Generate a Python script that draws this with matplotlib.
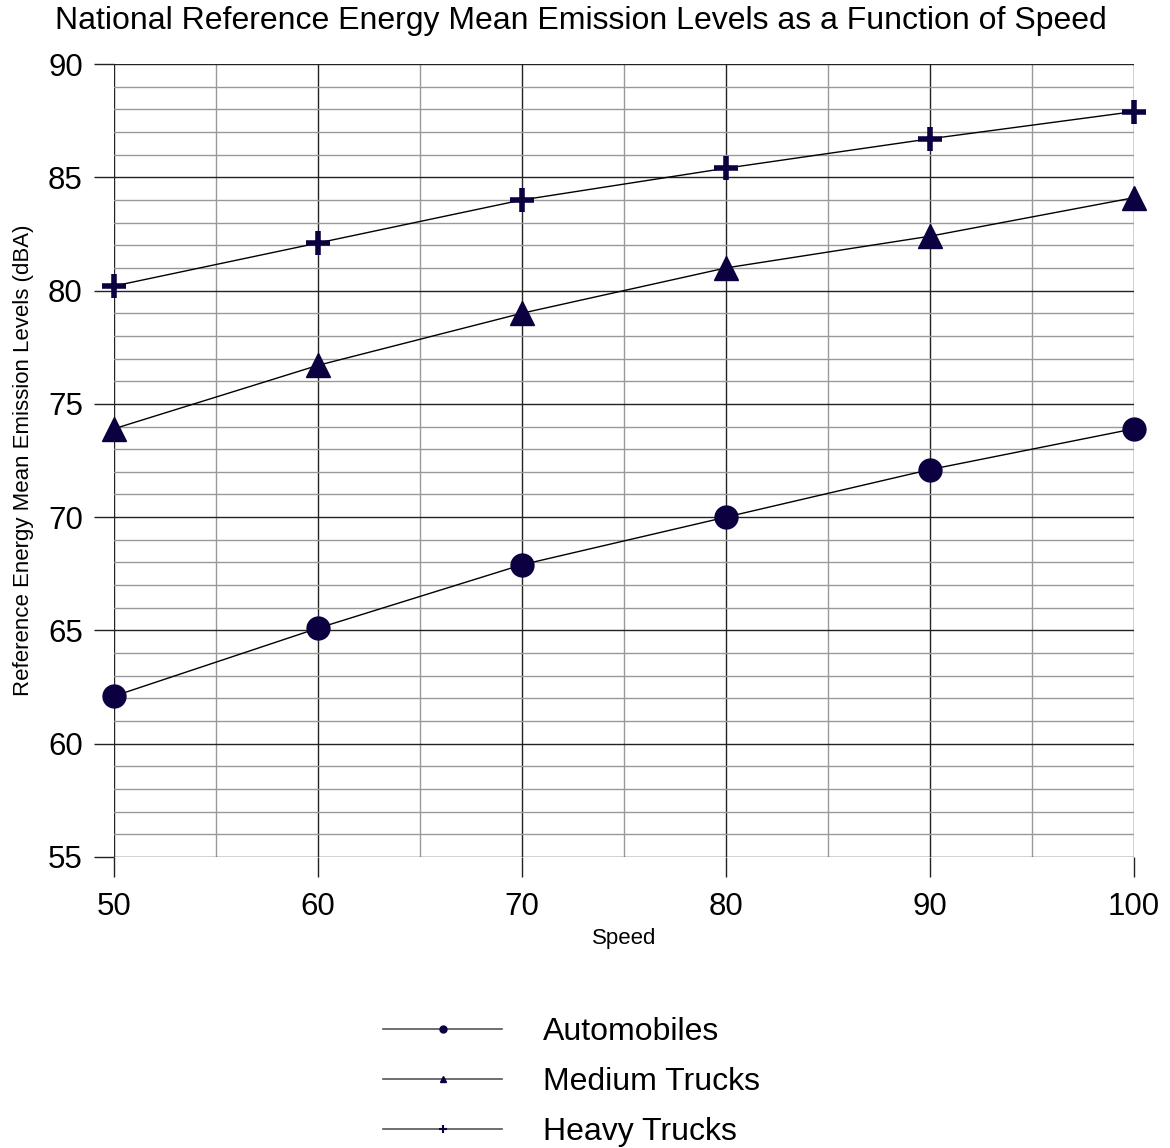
import matplotlib
matplotlib.use("Agg")
import matplotlib.pyplot as plt
from matplotlib.ticker import MultipleLocator

plt.rcParams['font.family'] = ['Liberation Sans', 'DejaVu Sans']

# data
speed = [50, 60, 70, 80, 90, 100]
automobiles = [62.1, 65.1, 67.9, 70.0, 72.1, 73.9]
medium_trucks = [73.9, 76.7, 79.0, 81.0, 82.4, 84.1]
heavy_trucks = [80.2, 82.1, 84.0, 85.4, 86.7, 87.9]
series_names = ['Automobiles', 'Medium Trucks', 'Heavy Trucks']

MARK = '#0d0040'    # dark navy for the markers

fig = plt.figure(figsize=(11.7, 11.48), dpi=100)
ax = fig.add_axes([114 / 1170, 1 - 857 / 1148, 1020 / 1170, 793 / 1148])

ax.plot(speed, automobiles, color='black', lw=1, marker='o', ms=16.5,
        mfc=MARK, mec=MARK, zorder=5, clip_on=False)
ax.plot(speed, medium_trucks, color='black', lw=1, marker='^', ms=17.5,
        mfc=MARK, mec=MARK, zorder=5, clip_on=False)
ax.plot(speed, heavy_trucks, color='black', lw=1, marker='+', ms=17,
        mew=4, mec=MARK, zorder=5, clip_on=False)

ax.set_xlim(50, 100)
ax.set_ylim(55, 90)
ax.xaxis.set_major_locator(MultipleLocator(10))
ax.xaxis.set_minor_locator(MultipleLocator(5))
ax.yaxis.set_major_locator(MultipleLocator(5))
ax.yaxis.set_minor_locator(MultipleLocator(1))

ax.grid(which='major', color='#222222', lw=1)
ax.grid(which='minor', color='#999999', lw=1)
ax.set_axisbelow(True)
for s in ax.spines.values():
    s.set_visible(False)

ax.tick_params(which='major', length=14.5, width=1, color='#222222',
               labelsize=22.5)
ax.tick_params(axis='x', pad=11)
ax.tick_params(axis='y', pad=8)
ax.tick_params(which='minor', length=0)

ax.set_xlabel('Speed', fontsize=16, labelpad=4)
ax.set_ylabel('Reference Energy Mean Emission Levels (dBA)', fontsize=16, labelpad=10)
fig.suptitle('National Reference Energy Mean Emission Levels as a Function of Speed',
             fontsize=23, x=581 / 1170, y=1 - 21 / 1148, va='center')

# legend with small markers, like the original
handles = [
    plt.Line2D([], [], color='#555555', lw=1.2, marker='o', ms=5, mfc=MARK, mec=MARK),
    plt.Line2D([], [], color='#555555', lw=1.2, marker='^', ms=5, mfc=MARK, mec=MARK),
    plt.Line2D([], [], color='#555555', lw=1.2, marker='+', ms=6, mew=1.5, mec=MARK),
]
fig.legend(handles, series_names, loc='center left',
           bbox_to_anchor=(383 / 1170, 1 - 1082 / 1148), frameon=False,
           borderaxespad=0, borderpad=0,
           fontsize=23, handlelength=3.73, handletextpad=1.29, labelspacing=0.62)

fig.savefig('out.png', dpi=100)
